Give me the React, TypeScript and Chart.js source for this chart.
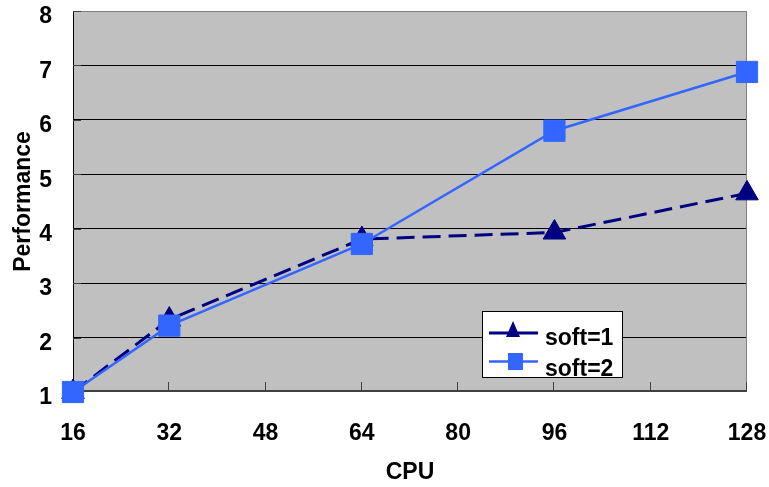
import React, { useEffect, useRef } from 'react';
import { Chart, registerables } from 'chart.js';

Chart.register(...registerables);

const cpuValues = [16, 32, 64, 96, 128];
const soft1Values = [1.0, 2.33, 3.81, 3.93, 4.65];
const soft2Values = [1.0, 2.22, 3.72, 5.8, 6.88];
const xTickValues = [16, 32, 48, 64, 80, 96, 112, 128];
const yTickValues = [1, 2, 3, 4, 5, 6, 7, 8];
const seriesNames = ['soft=1', 'soft=2'];
const xTitle = 'CPU';
const yTitle = 'Performance';

const FONT = "'Liberation Sans', Arial, Helvetica, sans-serif";
const FONT_SIZE = 23;
const FONT_WEIGHT = 'bold';
const NAVY = '#000080';
const BLUE = '#3366FF';

const framePlugin = {
  id: 'frame',
  beforeDraw(chart: any) {
    const { ctx, chartArea: a } = chart;
    ctx.save();
    ctx.fillStyle = '#C0C0C0';
    ctx.fillRect(a.left, a.top, a.right - a.left, a.bottom - a.top);
    ctx.restore();
  },
  beforeDatasetsDraw(chart: any) {
    const { ctx, chartArea: a, scales } = chart;
    ctx.save();
    ctx.strokeStyle = '#808080';
    ctx.lineWidth = 1;
    ctx.beginPath();
    ctx.moveTo(a.left, a.top + 0.5);
    ctx.lineTo(a.right, a.top + 0.5);
    ctx.moveTo(a.right - 0.5, a.top);
    ctx.lineTo(a.right - 0.5, a.bottom);
    ctx.stroke();
    ctx.strokeStyle = '#000000';
    ctx.beginPath();
    ctx.moveTo(a.left + 0.5, a.top);
    ctx.lineTo(a.left + 0.5, a.bottom);
    ctx.stroke();
    ctx.strokeStyle = '#404040';
    ctx.beginPath();
    for (const v of yTickValues) {
      const y = Math.round(scales.y.getPixelForValue(v)) + 0.5;
      ctx.moveTo(a.left, y);
      ctx.lineTo(a.left + 8, y);
    }
    ctx.stroke();
    ctx.strokeStyle = '#404040';
    ctx.lineWidth = 2;
    ctx.beginPath();
    ctx.moveTo(a.left, a.bottom - 1);
    ctx.lineTo(a.right, a.bottom - 1);
    ctx.stroke();
    ctx.lineWidth = 1;
    ctx.beginPath();
    for (const v of xTickValues) {
      const x = Math.round(scales.x.getPixelForValue(v)) - 0.5;
      ctx.moveTo(x, a.bottom);
      ctx.lineTo(x, a.bottom - 10);
    }
    ctx.stroke();
    ctx.restore();
  },
  afterDraw(chart: any) {
    const { ctx } = chart;
    ctx.save();
    const lx = 482, ly = 311, lw = 140, lh = 66;
    ctx.fillStyle = '#FFFFFF';
    ctx.fillRect(lx, ly, lw, lh);
    ctx.strokeStyle = NAVY;
    ctx.lineWidth = 3;
    ctx.beginPath();
    ctx.moveTo(489, 333);
    ctx.lineTo(538, 333);
    ctx.stroke();
    ctx.fillStyle = NAVY;
    ctx.beginPath();
    ctx.moveTo(513, 321);
    ctx.lineTo(520, 337);
    ctx.lineTo(506, 337);
    ctx.closePath();
    ctx.fill();
    ctx.strokeStyle = BLUE;
    ctx.lineWidth = 2.5;
    ctx.beginPath();
    ctx.moveTo(489, 361.5);
    ctx.lineTo(538, 361.5);
    ctx.stroke();
    ctx.fillStyle = BLUE;
    ctx.fillRect(508, 353, 15, 17);
    ctx.fillStyle = '#000000';
    ctx.font = `${FONT_WEIGHT} ${FONT_SIZE}px ${FONT}`;
    ctx.textBaseline = 'alphabetic';
    ctx.textAlign = 'left';
    ctx.fillText(seriesNames[0], 545, 345);
    ctx.save();
    ctx.beginPath();
    ctx.rect(lx, ly, lw, lh);
    ctx.clip();
    ctx.fillText(seriesNames[1], 545, 376);
    ctx.restore();
    ctx.strokeStyle = '#000000';
    ctx.lineWidth = 1;
    ctx.strokeRect(lx + 0.5, ly + 0.5, lw, lh);
    ctx.restore();
  },
};

export default function App() {
  const canvasRef = useRef<HTMLCanvasElement | null>(null);

  useEffect(() => {
    const canvas = canvasRef.current;
    if (!canvas) return;
    const font = { family: FONT, size: FONT_SIZE, weight: FONT_WEIGHT as any };
    const chart = new Chart(canvas, {
      type: 'line',
      data: {
        datasets: [
          {
            label: seriesNames[0],
            data: cpuValues.map((x, i) => ({ x, y: soft1Values[i] })),
            borderColor: NAVY,
            backgroundColor: NAVY,
            borderWidth: 3,
            borderDash: [18, 8],
            pointStyle: 'triangle',
            pointRadius: 13,
            pointHoverRadius: 13,
            pointBorderWidth: 1,
            clip: false as any,
            order: 1,
          },
          {
            label: seriesNames[1],
            data: cpuValues.map((x, i) => ({ x, y: soft2Values[i] })),
            borderColor: BLUE,
            backgroundColor: BLUE,
            borderWidth: 2.5,
            pointStyle: 'rect',
            pointRadius: 15,
            pointHoverRadius: 15,
            pointBorderWidth: 1,
            clip: false as any,
            order: 0,
          },
        ],
      },
      options: {
        animation: false,
        responsive: false,
        maintainAspectRatio: false,
        events: [],
        layout: { autoPadding: false, padding: { top: 11, right: 22, left: 0, bottom: 0 } },
        plugins: {
          legend: { display: false },
          tooltip: { enabled: false },
        },
        scales: {
          x: {
            type: 'linear',
            min: 16,
            max: 128,
            afterBuildTicks: (scale: any) => {
              scale.ticks = xTickValues.map((v) => ({ value: v }));
            },
            afterFit: (scale: any) => {
              scale.height = 95;
              scale.paddingLeft = 0;
              scale.paddingRight = 0;
            },
            grid: { display: false, drawTicks: false },
            border: { display: false },
            ticks: {
              color: '#000',
              padding: 28,
              maxRotation: 0,
              font,
            },
            title: {
              display: true,
              text: xTitle,
              color: '#000',
              font,
              padding: { top: 0, bottom: 1 },
            },
          },
          y: {
            type: 'linear',
            min: 1,
            max: 8,
            afterBuildTicks: (scale: any) => {
              scale.ticks = yTickValues.map((v) => ({ value: v }));
            },
            afterFit: (scale: any) => {
              scale.width = 73;
              scale.paddingTop = 0;
              scale.paddingBottom = 0;
            },
            grid: {
              drawTicks: false,
              color: (c: any) =>
                c.tick && (c.tick.value === 1 || c.tick.value === 8) ? 'rgba(0,0,0,0)' : '#000000',
              lineWidth: 1,
            },
            border: { display: false },
            ticks: {
              color: '#000',
              padding: 21,
              labelOffset: 6,
              font,
            },
            title: {
              display: true,
              text: yTitle,
              color: '#000',
              font,
              padding: { top: 10, bottom: 0 },
            },
          },
        },
      },
      plugins: [framePlugin],
    });
    return () => chart.destroy();
  }, []);

  return (
    <div style={{ position: 'absolute', left: 0, top: 0, width: 769, height: 487, background: '#fff' }}>
      <canvas ref={canvasRef} width={769} height={487} style={{ width: 769, height: 487, display: 'block' }} />
    </div>
  );
}
